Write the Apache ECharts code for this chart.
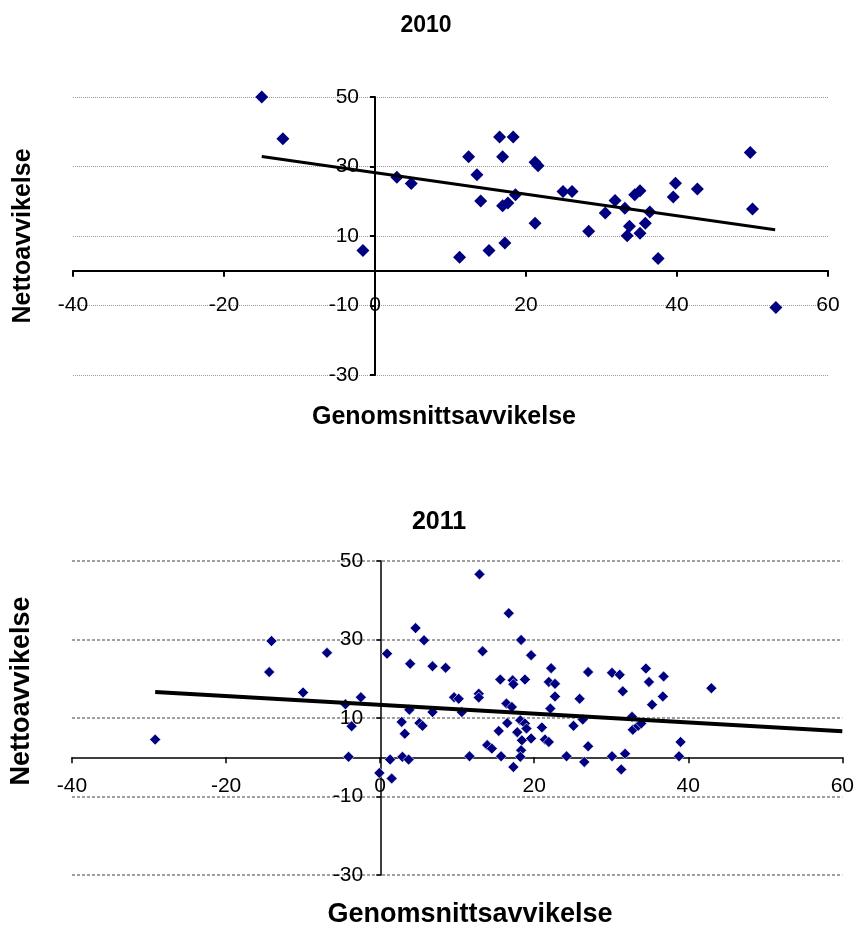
<!DOCTYPE html>
<html><head><meta charset="utf-8">
<script src="https://cdn.jsdelivr.net/npm/echarts@6/dist/echarts.min.js"></script>
<style>html,body{margin:0;padding:0;background:#fff}#c{width:857px;height:929px}</style>
</head><body><div id="c"></div>
<script>
// ---- 2010 data ----
const x2010 = [-15, -12.2, -1.6, 2.9, 4.8, 11.2, 12.4, 13.5, 14.0, 15.1, 16.5, 16.9, 17.2, 16.9, 17.6, 18.3, 18.6, 21.2, 21.6, 21.2, 24.9, 26.1, 28.3, 30.5, 31.8, 33.1, 33.7, 33.4, 34.4, 35.1, 35.1, 35.8, 36.4, 37.5, 39.5, 39.8, 42.7, 49.7, 50.0, 53.1];
const y2010 = [50, 38, 5.8, 26.9, 25.1, 3.9, 32.8, 27.6, 20.1, 5.8, 38.5, 32.8, 8.0, 18.7, 19.5, 38.5, 21.9, 31.2, 30.2, 13.7, 22.8, 22.8, 11.4, 16.6, 20.2, 18.0, 12.8, 10.1, 21.9, 23.0, 10.8, 13.7, 16.9, 3.5, 21.2, 25.2, 23.5, 34.0, 17.8, -10.6];
const trendX2010 = [-15, 53];
const trendY2010 = [32.9, 11.8];

// ---- 2011 data ----
const x2011 = [-29.2, -14.1, -14.4, -10.0, -6.9, -4.5, -3.7, -2.5, -4.1, -0.1, 0.9, 1.3, 1.5, 2.8, 3.2, 2.9, 3.7, 3.9, 3.8, 4.6, 5.1, 5.5, 5.7, 6.8, 6.8, 8.5, 9.6, 10.2, 10.6, 11.6, 12.8, 12.8, 12.9, 13.3, 13.9, 14.5, 15.6, 15.4, 15.7, 16.4, 16.7, 16.5, 17.2, 17.3, 17.1, 17.3, 17.8, 18.3, 18.8, 18.2, 18.4, 18.3, 18.2, 18.8, 19.0, 19.6, 19.6, 21.0, 21.4, 21.9, 22.1, 21.9, 22.2, 22.7, 22.7, 24.2, 25.1, 25.9, 26.3, 26.5, 27.0, 27.0, 30.1, 30.1, 31.1, 31.5, 31.3, 31.8, 32.7, 32.8, 33.5, 33.9, 34.5, 34.9, 35.3, 36.8, 36.7, 39.0, 38.8, 43.0];
const y2011 = [4.5, 29.6, 21.7, 16.5, 26.6, 13.5, 7.9, 15.3, 0.1, -4.0, 26.4, -0.6, -5.4, 9.0, 6.0, 0.1, -0.6, 23.8, 12.1, 32.9, 8.7, 8.0, 29.8, 23.2, 11.5, 22.8, 15.3, 14.9, 11.5, 0.25, 16.2, 15.2, 46.6, 27.0, 3.1, 2.2, 19.8, 6.7, 0.25, 13.7, 36.7, 8.7, 19.6, 18.6, 12.8, -2.5, 6.4, 29.9, 19.8, 9.4, 4.3, 1.8, 0.1, 8.6, 7.3, 4.8, 26.0, 7.6, 4.5, 3.9, 12.4, 19.2, 22.7, 18.7, 15.5, 0.25, 8.0, 14.9, 9.6, -1.2, 21.7, 2.8, 21.5, 0.25, 21.0, 16.8, -3.1, 0.9, 10.3, 7.0, 8.0, 8.6, 22.6, 19.2, 13.4, 20.6, 15.5, 3.9, 0.25, 17.6];
const trendX2011 = [-29.2, 60];
const trendY2011 = [16.6, 6.6];

// ---- axis settings / text ----
const xMin = -40, xMax = 60, xStep = 20;
const yMin = -30, yMax = 50, yStep = 20;
const titles = ['2010', '2011'];
const xName = 'Genomsnittsavvikelse';
const yName = 'Nettoavvikelse';

const zip = (a, b) => a.map((v, i) => [v, b[i]]);
const ARIAL = '"Liberation Sans",Arial,sans-serif';

// grid boxes (pixels)
const G = [
  { left: 73, right: 29, top: 97, bottom: 554 },
  { left: 72, right: 12, top: 561, bottom: 54 }
];
const W = 857, H = 929;
// where value 0 falls inside each grid, used to move the axes through the origin
function zeroOffsets(g) {
  const w = W - g.left - g.right, h = H - g.top - g.bottom;
  const zx = (0 - xMin) / (xMax - xMin) * w;          // from grid left
  const zy = (0 - yMin) / (yMax - yMin) * h;          // from grid bottom
  return { yOff: -zx, xOff: -zy };
}
const O = G.map(zeroOffsets);

function xAx(gi, fs, lw, margin) {
  return {
    type: 'value', gridIndex: gi, min: xMin, max: xMax, interval: xStep,
    position: 'bottom', offset: O[gi].xOff,
    axisLine: { onZero: false, lineStyle: { color: '#000', width: lw } },
    axisTick: { show: true, length: 6, lineStyle: { color: '#000', width: lw } },
    axisLabel: { color: '#000', fontSize: fs, fontFamily: ARIAL, margin: margin },
    splitLine: { show: false }
  };
}
function yAx(gi, fs, lw, gl, margin) {
  return {
    type: 'value', gridIndex: gi, min: yMin, max: yMax, interval: yStep,
    position: 'left', offset: O[gi].yOff,
    axisLine: { onZero: false, lineStyle: { color: '#000', width: lw } },
    axisTick: { show: true, length: 5, lineStyle: { color: '#000', width: lw } },
    axisLabel: { color: '#000', fontSize: fs, fontFamily: ARIAL, margin: margin },
    splitLine: { show: true, lineStyle: gl }
  };
}

const textStyle = (t, font) => ({ text: t, font: font, fill: '#000', align: 'center', verticalAlign: 'middle', textAlign: 'center', textVerticalAlign: 'middle' });

const chart = echarts.init(document.getElementById('c'));
chart.setOption({
  animation: false,
  backgroundColor: '#fff',
  grid: G,
  xAxis: [xAx(0, 21, 2, 24), xAx(1, 21, 1.5, 18)],
  yAxis: [
    yAx(0, 21, 2, { type: 'dotted', color: '#9a9a9a', width: 1 }, 16),
    yAx(1, 21, 1.5, { type: [3, 2], color: '#808080', width: 1.5 }, 18)
  ],
  series: [
    { type: 'scatter', xAxisIndex: 0, yAxisIndex: 0, symbol: 'diamond', symbolSize: 13,
      itemStyle: { color: '#000080', opacity: 1 }, data: zip(x2010, y2010), z: 3 },
    { type: 'line', xAxisIndex: 0, yAxisIndex: 0, symbol: 'none',
      lineStyle: { color: '#000', width: 3 }, data: zip(trendX2010, trendY2010), z: 4 },
    { type: 'scatter', xAxisIndex: 1, yAxisIndex: 1, symbol: 'diamond', symbolSize: 11,
      itemStyle: { color: '#000080', opacity: 1, borderColor: '#fff', borderWidth: 0.6 }, data: zip(x2011, y2011), z: 3 },
    { type: 'line', xAxisIndex: 1, yAxisIndex: 1, symbol: 'none',
      lineStyle: { color: '#000', width: 4 }, data: zip(trendX2011, trendY2011), z: 4 }
  ],
  graphic: [
    { type: 'text', x: 426, y: 26, style: textStyle(titles[0], 'bold 23px ' + ARIAL) },
    { type: 'text', x: 444, y: 417, style: textStyle(xName, 'bold 25px ' + ARIAL) },
    { type: 'text', x: 23, y: 236, rotation: Math.PI / 2, style: textStyle(yName, 'bold 25px ' + ARIAL) },
    { type: 'text', x: 439, y: 522, style: textStyle(titles[1], 'bold 25px ' + ARIAL) },
    { type: 'text', x: 470, y: 915, style: textStyle(xName, 'bold 27px ' + ARIAL) },
    { type: 'text', x: 22, y: 691, rotation: Math.PI / 2, style: textStyle(yName, 'bold 27px ' + ARIAL) }
  ]
});
</script>
</body></html>
